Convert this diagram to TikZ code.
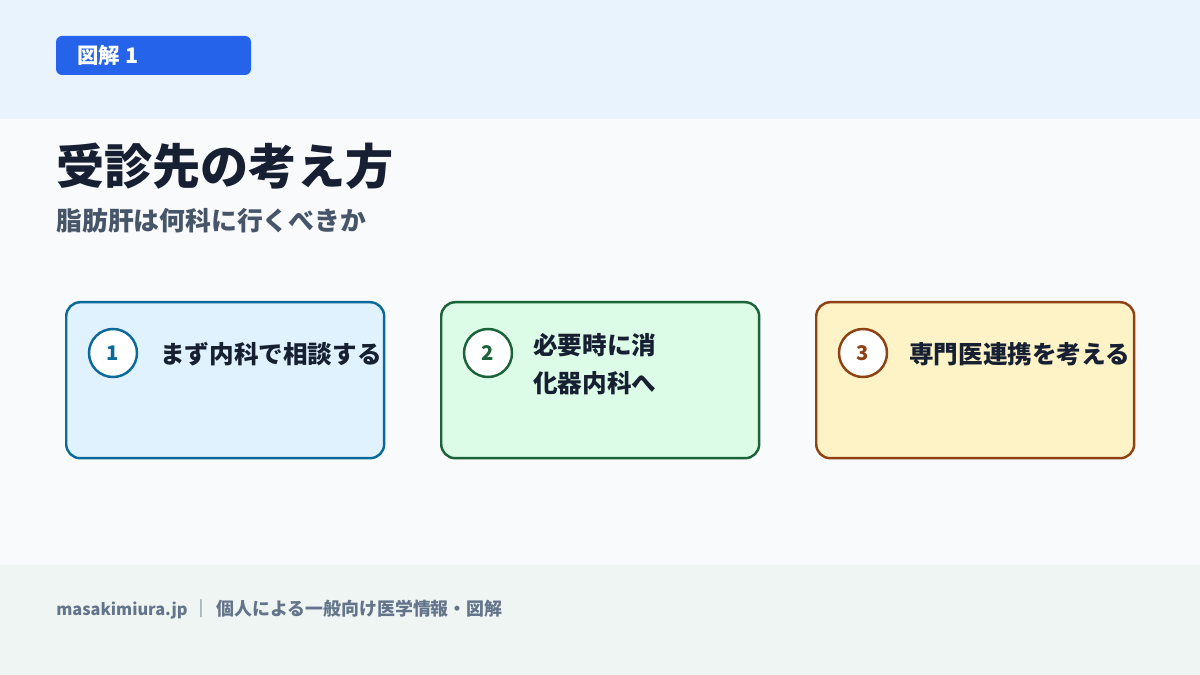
\documentclass[tikz,border=0pt]{standalone}
\usepackage{fontspec}
\setmainfont{Noto Sans CJK JP}
\usetikzlibrary{positioning}

\definecolor{headbg}{HTML}{E8F3FD}
\definecolor{pagebg}{HTML}{F8FAFC}
\definecolor{footbg}{HTML}{EFF5F3}
\definecolor{badgeblue}{HTML}{2563EB}
\definecolor{titleink}{HTML}{172033}
\definecolor{subink}{HTML}{475569}
\definecolor{footink}{HTML}{64748B}
\definecolor{blueline}{HTML}{0B6A9A}
\definecolor{bluefill}{HTML}{E0F2FE}
\definecolor{greenline}{HTML}{1B6338}
\definecolor{greenfill}{HTML}{DCFCE7}
\definecolor{brownline}{HTML}{8F4214}
\definecolor{brownfill}{HTML}{FEF3C7}

\tikzset{
  stepcard/.style={draw=#1line, fill=#1fill, line width=1.4pt, rounded corners=0.28cm,
    minimum width=6.36cm, minimum height=3.12cm, anchor=north west},
  stepnum/.style={circle, draw=#1line, fill=white, text=#1line, line width=1.4pt,
    minimum size=0.96cm, inner sep=0pt, font=\fontsize{11.5pt}{13pt}\selectfont\bfseries},
  steptext/.style={anchor=west, align=left, inner sep=0pt, text=titleink,
    font=\fontsize{14pt}{21.5pt}\selectfont\bfseries}
}

\begin{document}
\begin{tikzpicture}[x=0.02cm, y=-0.02cm]
    \useasboundingbox (0,0) rectangle (1200,675);
    \fill [pagebg] (0,0) rectangle (1200,675);
    \fill [headbg] (0,0) rectangle (1200,119);
    \fill [footbg] (0,565) rectangle (1200,675);

    \fill [badgeblue, rounded corners=0.12cm] (56,36) rectangle (251,75);
    \node (badge) [anchor=west, inner sep=0pt, text=white, font=\fontsize{12.2pt}{14pt}\selectfont\bfseries]
      at (77,55) {図解 1};

    \node (title) [anchor=west, inner sep=0pt, text=titleink, font=\fontsize{27.4pt}{32pt}\selectfont\bfseries]
      at (56,166) {受診先の考え方};
    \node (subtitle) [anchor=west, inner sep=0pt, text=subink, font=\fontsize{14.7pt}{18pt}\selectfont\bfseries]
      at (56,221) {脂肪肝は何科に行くべきか};

    \node (card1) [stepcard=blue] at (65,301) {};
    \node (num1) [stepnum=blue] at (113,353) {1};
    \node (text1) [steptext] at (160,354) {まず内科で相談する};

    \node (card2) [stepcard=green] at (440,301) {};
    \node (num2) [stepnum=green] at (488,353) {2};
    \node (text2) [steptext] at (533,364) {必要時に消\\化器内科へ};

    \node (card3) [stepcard=brown] at (815,301) {};
    \node (num3) [stepnum=brown] at (863,353) {3};
    \node (text3) [steptext] at (909,354) {専門医連携を考える};

    \node (footer) [anchor=west, inner sep=0pt, text=footink, font=\fontsize{10.2pt}{12pt}\selectfont\bfseries]
      at (56,609) {{\fontsize{9.3pt}{12pt}\selectfont masakimiura.jp}\hspace{2.8pt}｜\hspace{3.4pt}個人による一般向け医学情報・図解};
  \end{tikzpicture}
\end{document}
